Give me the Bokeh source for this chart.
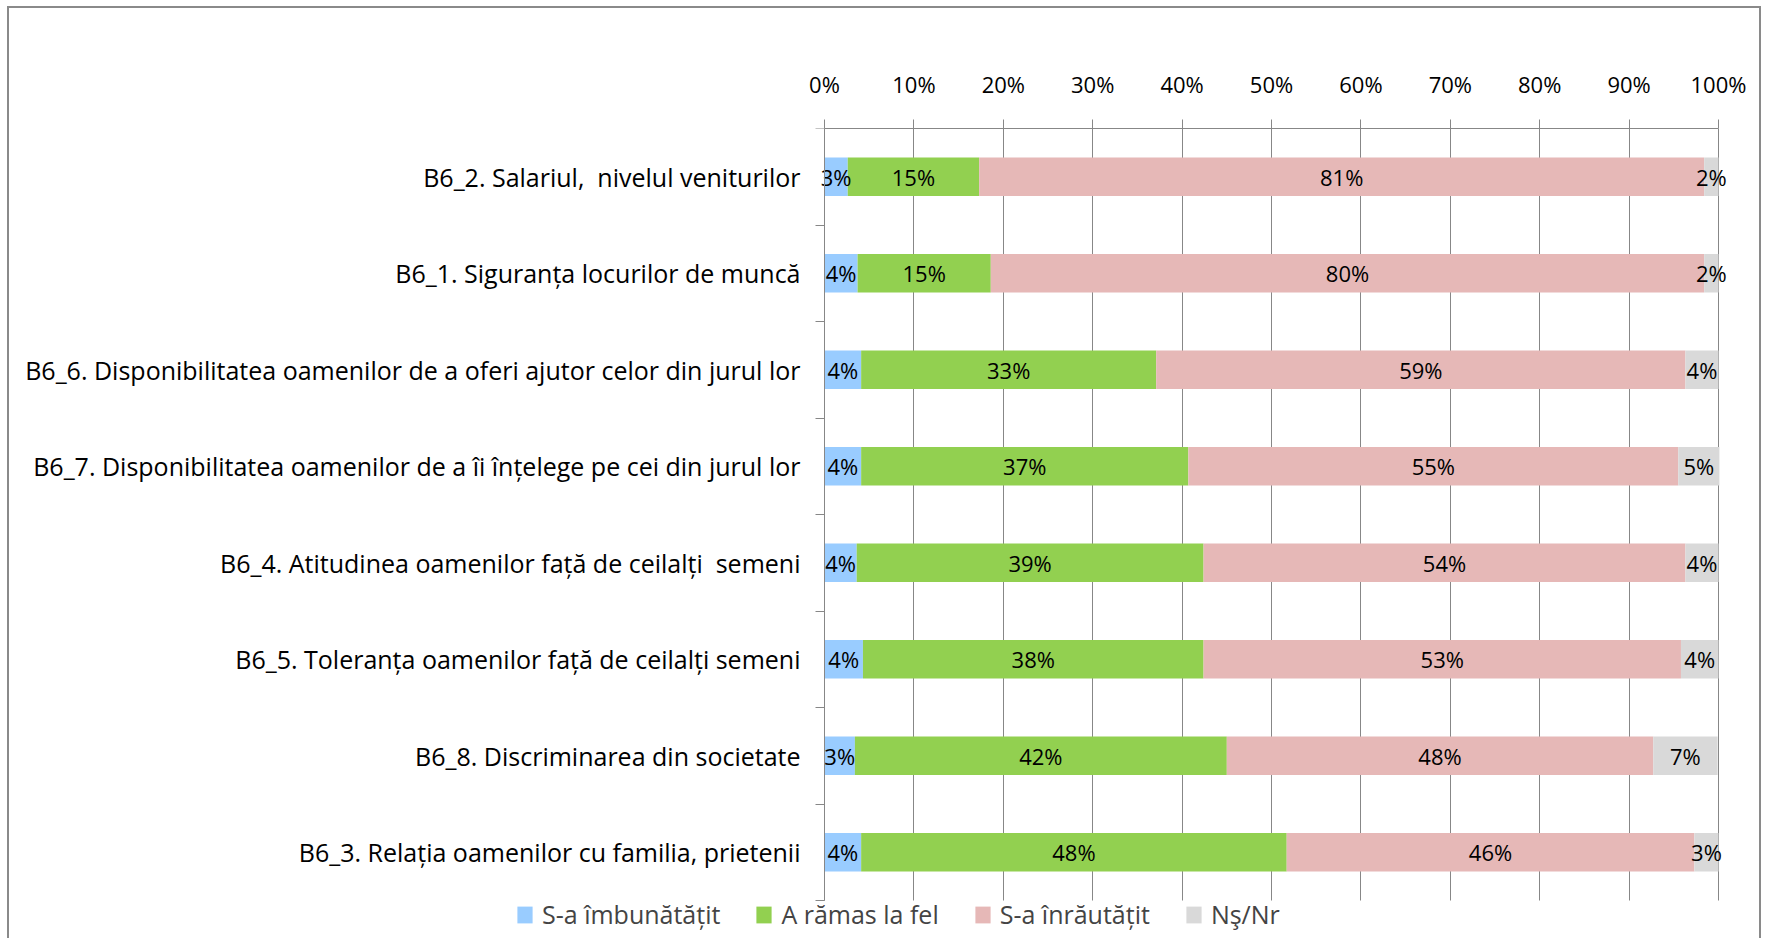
from bokeh.plotting import figure
from bokeh.models import (Range1d, FixedTicker, CustomJSTickFormatter, ColumnDataSource,
                          Legend, LegendItem)
from bokeh.core.properties import value
from bokeh.embed import file_html
from bokeh.resources import INLINE

# ---------------- data (top to bottom as displayed) ----------------
categories = [
    "B6_2. Salariul,\u00a0 nivelul veniturilor",
    "B6_1. Siguranța locurilor de muncă",
    "B6_6. Disponibilitatea oamenilor de a oferi ajutor celor din jurul lor",
    "B6_7. Disponibilitatea oamenilor de a îi înțelege pe cei din jurul lor",
    "B6_4. Atitudinea oamenilor față de ceilalți\u00a0 semeni",
    "B6_5. Toleranța oamenilor față de ceilalți semeni",
    "B6_8. Discriminarea din societate",
    "B6_3. Relația oamenilor cu familia, prietenii",
]
improved = [2.6, 3.7, 4.1, 4.1, 3.6, 4.3, 3.4, 4.1]
same = [14.7, 14.9, 33.0, 36.6, 38.8, 38.1, 41.6, 47.6]
worse = [81.1, 79.8, 59.2, 54.8, 53.9, 53.4, 47.7, 45.6]
dont_know = [1.6, 1.6, 3.7, 4.6, 3.7, 4.2, 7.2, 2.7]
series_names = ["S-a îmbunătățit", "A rămas la fel", "S-a înrăutățit", "Nş/Nr"]
x_ticks = [0, 10, 20, 30, 40, 50, 60, 70, 80, 90, 100]

colors = ["#99CCFF", "#92D050", "#E6B8B7", "#D9D9D9"]
FONT = "Open Sans"
GRID = "#878787"

n = len(categories)
series = [improved, same, worse, dont_know]
keys = ["s0", "s1", "s2", "s3"]
ypos = [n - 0.5 - i for i in range(n)]

data = {"y": ypos}
for k, s in zip(keys, series):
    data[k] = s
source = ColumnDataSource(data)

# ---------------- layout geometry (pixels) ----------------
W, H = 1754, 932
MB_RIGHT, MB_TOP = 14, 120
PX_PER_PCT = 8.94          # horizontal scale
PX_PER_ROW = 96.5          # vertical scale
AXIS_X = 815               # where 0% falls inside the canvas
frame_w = W - MB_RIGHT
frame_h = H - MB_TOP
x_start = -AXIS_X / PX_PER_PCT
x_end = x_start + frame_w / PX_PER_PCT
y_start = n - frame_h / PX_PER_ROW

p = figure(width=W, height=H, x_range=Range1d(x_start, x_end), y_range=Range1d(y_start, n),
           output_backend="svg", toolbar_location=None, x_axis_location="above",
           min_border_left=0, min_border_right=MB_RIGHT, min_border_top=MB_TOP,
           min_border_bottom=0)
p.outline_line_color = None
p.background_fill_color = "white"
p.border_fill_color = "white"
p.styles = {"margin": "6px 0 0 7px",
            "border-top": "2px solid #8a8a8a", "border-left": "2px solid #8a8a8a",
            "border-right": "2px solid #8a8a8a"}

# grid (vertical lines only between the first and last category boundary)
grid = p.xgrid[0]
grid.ticker = FixedTicker(ticks=x_ticks, minor_ticks=[])
grid.grid_line_color = GRID
p.ygrid.grid_line_color = None
try:
    grid.cross_bounds = (0, n)
except AttributeError:
    grid.visible = False
    p.segment(x0=x_ticks, x1=x_ticks, y0=[0] * len(x_ticks), y1=[n] * len(x_ticks),
              line_color=GRID, level="underlay")

renderers = p.hbar_stack(keys, y="y", height=0.4, color=colors, line_color=None,
                         source=source)

# data labels
lx, ly, lt = [], [], []
for i in range(n):
    left = 0.0
    for s in series:
        v = s[i]
        lx.append(left + v / 2)
        ly.append(ypos[i])
        lt.append(f"{round(v):d}%")
        left += v
p.text(x=lx, y=ly, text=lt, text_align="center", text_baseline="middle",
       text_font=value(FONT), text_font_size="22px", text_color="black")

# x axis (top)
xax = p.xaxis[0]
xax.bounds = (0, 100)
xax.ticker = FixedTicker(ticks=x_ticks, minor_ticks=[])
xax.formatter = CustomJSTickFormatter(code="return tick.toFixed(0) + '%'")
xax.axis_line_color = GRID
xax.major_tick_line_color = GRID
xax.major_tick_out = 9
xax.major_tick_in = 0
xax.minor_tick_line_color = None
xax.major_label_standoff = 21
xax.major_label_text_font = FONT
xax.major_label_text_font_size = "22px"
xax.major_label_text_color = "black"

# y axis at 0 %, labels at row centres, ticks at row boundaries
yax = p.yaxis[0]
yax.fixed_location = 0
yax.bounds = (0, n)
yax.ticker = FixedTicker(ticks=ypos, minor_ticks=list(range(n + 1)))
yax.formatter = CustomJSTickFormatter(args=dict(labels=categories[::-1]),
                                      code="const i = Math.round(tick - 0.5); return labels[i] || '';")
yax.axis_line_color = GRID
yax.major_tick_line_color = None
yax.major_tick_out = 0
yax.major_tick_in = 0
yax.minor_tick_line_color = GRID
yax.minor_tick_out = 9
yax.minor_tick_in = 0
yax.major_label_standoff = 15
yax.major_label_text_font = FONT
yax.major_label_text_font_size = "25px"
yax.major_label_text_color = "black"

legend = Legend(items=[LegendItem(label=nm, renderers=[r]) for nm, r in zip(series_names, renderers)],
                orientation="horizontal", location=(506, 9),
                label_text_font=FONT, label_text_font_size="25px",
                glyph_width=19, glyph_height=21, label_standoff=8, spacing=34,
                padding=0, margin=0, border_line_color=None, background_fill_alpha=0)
p.add_layout(legend)

open("out.html", "w").write(file_html(p, INLINE))
